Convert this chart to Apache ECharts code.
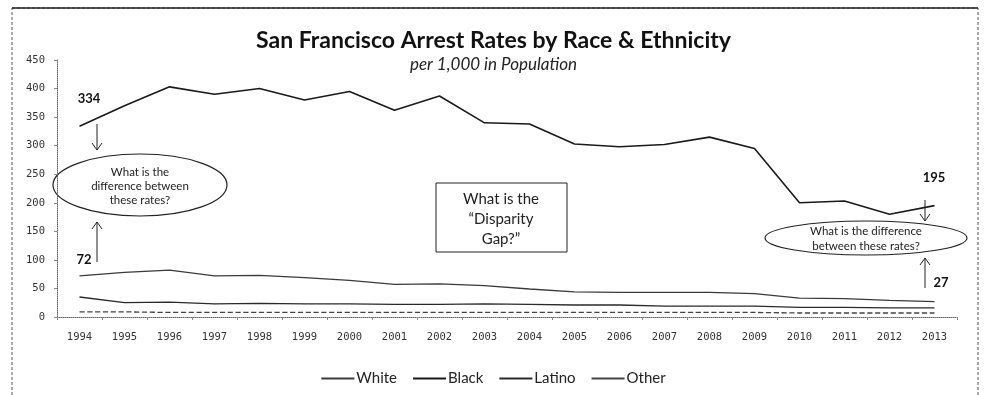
<!DOCTYPE html>
<html>
<head>
<meta charset="utf-8">
<script src="https://cdn.jsdelivr.net/npm/echarts@6/dist/echarts.min.js"></script>
<style>
html,body{margin:0;padding:0;background:#fff;}
#chart{width:987px;height:395px;}
</style>
</head>
<body>
<div id="chart"></div>
<script>
var years = ['1994','1995','1996','1997','1998','1999','2000','2001','2002','2003','2004','2005','2006','2007','2008','2009','2010','2011','2012','2013'];
var white  = [72, 78, 82, 72, 73, 69, 64, 57, 58, 55, 49, 44, 43, 43, 43, 41, 33, 32, 29, 27];
var black  = [334, 370, 403, 390, 400, 380, 395, 362, 387, 340, 338, 303, 298, 302, 315, 295, 200, 203, 180, 195];
var latino = [35, 25, 26, 23, 24, 23, 23, 22, 22, 23, 22, 21, 21, 19, 19, 19, 17, 17, 16, 16];
var other  = [9, 9, 8, 8, 8, 8, 8, 8, 8, 8, 8, 8, 8, 8, 8, 8, 7, 7, 7, 7];
var yTicks = [0, 50, 100, 150, 200, 250, 300, 350, 400, 450];

var FONT = 'Lato, "Open Sans", sans-serif';
var chart = echarts.init(document.getElementById('chart'), null, {renderer: 'canvas'});

function mkSeries(name, data, color, width, type) {
  return {
    name: name, type: 'line', data: data, symbol: 'none', smooth: false,
    lineStyle: {color: color, width: width, type: type},
    itemStyle: {color: color},
    z: 3
  };
}

var option = {
  backgroundColor: '#fff',
  animation: false,
  title: {
    text: 'San Francisco Arrest Rates by Race & Ethnicity',
    subtext: 'per 1,000 in Population',
    left: 'center', top: 24, itemGap: 4,
    textStyle: {fontFamily: FONT, fontWeight: 'bold', fontSize: 23, color: '#111'},
    subtextStyle: {fontFamily: FONT, fontStyle: 'italic', fontSize: 17, color: '#222'}
  },
  legend: {
    data: ['White', 'Black', 'Latino', 'Other'],
    left: 'center', top: 366,
    itemWidth: 33, itemHeight: 2, itemGap: 16,
    icon: 'rect',
    textStyle: {fontFamily: FONT, fontSize: 15, color: '#222', padding: [0, 0, 0, -3]}
  },
  grid: {left: 57, right: 30, top: 60, bottom: 78, containLabel: false},
  xAxis: {
    type: 'category', data: years, boundaryGap: true,
    axisLine: {lineStyle: {color: '#666', type: 'dotted', width: 1}},
    axisTick: {show: true, alignWithLabel: false, length: 3, lineStyle: {color: '#888'}},
    axisLabel: {fontFamily: '"DejaVu Sans Mono", monospace', fontSize: 10.5, color: '#333', margin: 15}
  },
  yAxis: {
    type: 'value', min: 0, max: 450, interval: 50,
    axisLine: {show: true, lineStyle: {color: '#666', type: 'dotted', width: 1}},
    axisTick: {show: true, length: 3, lineStyle: {color: '#888'}},
    splitLine: {show: false},
    axisLabel: {fontFamily: '"DejaVu Sans Mono", monospace', fontSize: 10.5, color: '#333', margin: 12,
      formatter: function (v) { return yTicks.indexOf(v) >= 0 ? String(v) : ''; }}
  },
  series: [
    mkSeries('White', white, '#3a3a3a', 1.3, 'solid'),
    mkSeries('Black', black, '#1a1a1a', 1.6, 'solid'),
    mkSeries('Latino', latino, '#2a2a2a', 1.3, 'solid'),
    mkSeries('Other', other, '#444', 1.3, 'dashed')
  ],
  graphic: [
    {type: 'rect', shape: {x: 12, y: 8, width: 966, height: 400}, silent: true,
     style: {fill: 'none', stroke: '#555', lineWidth: 1, lineDash: [3, 2]}},
    {type: 'line', shape: {x1: 12, y1: 8, x2: 978, y2: 8}, style: {stroke: '#222', lineWidth: 1.5}},
    // left annotations
    {type: 'text', x: 89, y: 99, style: {text: '334', font: 'bold 13px ' + FONT, fill: '#111', align: 'center', verticalAlign: 'middle'}},
    {type: 'line', shape: {x1: 97, y1: 124, x2: 97, y2: 150}, style: {stroke: '#222', lineWidth: 1}},
    {type: 'polyline', shape: {points: [[92, 143], [97, 150], [102, 143]]}, style: {stroke: '#222', lineWidth: 1, fill: 'none'}},
    {type: 'ellipse', shape: {cx: 140, cy: 185, rx: 87, ry: 31}, style: {fill: '#fff', stroke: '#222', lineWidth: 1.2}},
    {type: 'text', x: 140, y: 186, style: {text: 'What is the\ndifference between\nthese rates?', font: '11.5px ' + FONT, lineHeight: 14, fill: '#222', align: 'center', verticalAlign: 'middle'}},
    {type: 'line', shape: {x1: 97, y1: 262, x2: 97, y2: 222}, style: {stroke: '#222', lineWidth: 1}},
    {type: 'polyline', shape: {points: [[92, 229], [97, 222], [102, 229]]}, style: {stroke: '#222', lineWidth: 1, fill: 'none'}},
    {type: 'text', x: 84, y: 260, style: {text: '72', font: 'bold 13px ' + FONT, fill: '#111', align: 'center', verticalAlign: 'middle'}},
    // center box
    {type: 'rect', shape: {x: 436, y: 183, width: 131, height: 69}, style: {fill: '#fff', stroke: '#222', lineWidth: 1}},
    {type: 'text', x: 501, y: 219, style: {text: 'What is the\n\u201CDisparity\nGap?\u201D', font: '15px ' + FONT, lineHeight: 20, fill: '#222', align: 'center', verticalAlign: 'middle'}},
    // right annotations
    {type: 'text', x: 934, y: 178, style: {text: '195', font: 'bold 13px ' + FONT, fill: '#111', align: 'center', verticalAlign: 'middle'}},
    {type: 'line', shape: {x1: 925, y1: 200, x2: 925, y2: 221}, style: {stroke: '#222', lineWidth: 1}},
    {type: 'polyline', shape: {points: [[920, 214], [925, 221], [930, 214]]}, style: {stroke: '#222', lineWidth: 1, fill: 'none'}},
    {type: 'ellipse', shape: {cx: 866, cy: 238, rx: 101, ry: 17}, style: {fill: '#fff', stroke: '#222', lineWidth: 1.2}},
    {type: 'text', x: 866, y: 239, style: {text: 'What is the difference\nbetween these rates?', font: '11.5px ' + FONT, lineHeight: 15, fill: '#222', align: 'center', verticalAlign: 'middle'}},
    {type: 'line', shape: {x1: 925, y1: 288, x2: 925, y2: 258}, style: {stroke: '#222', lineWidth: 1}},
    {type: 'polyline', shape: {points: [[920, 265], [925, 258], [930, 265]]}, style: {stroke: '#222', lineWidth: 1, fill: 'none'}},
    {type: 'text', x: 941, y: 283, style: {text: '27', font: 'bold 13px ' + FONT, fill: '#111', align: 'center', verticalAlign: 'middle'}}
  ]
};
chart.setOption(option);
</script>
</body>
</html>
